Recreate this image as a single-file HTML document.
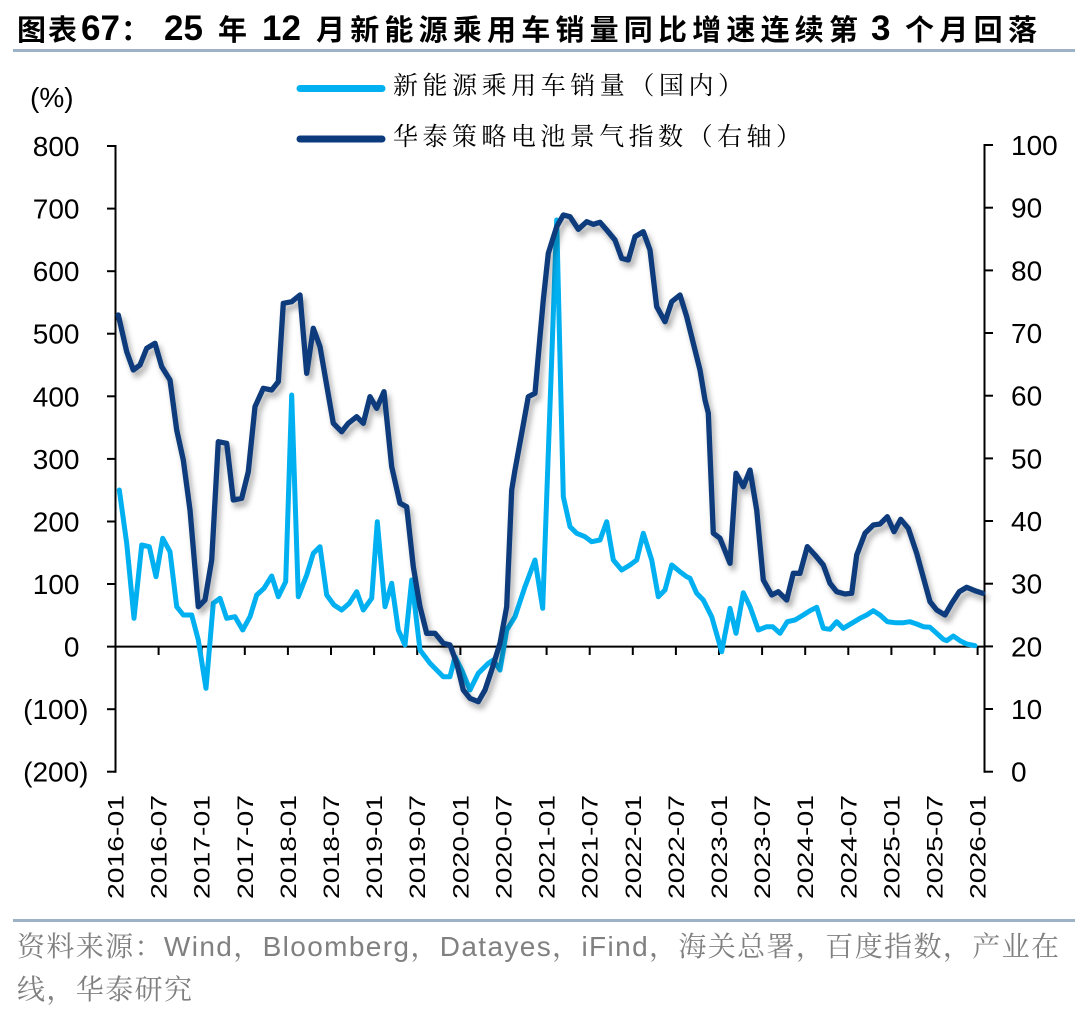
<!DOCTYPE html>
<html>
<head>
<meta charset="utf-8">
<style>
  html, body { margin: 0; padding: 0; background: #ffffff; }
  body { width: 1080px; height: 1013px; overflow: hidden; }
  svg { display: block; }
  .tick { font-family: "Liberation Sans", Arial, sans-serif; font-size: 28px; fill: #000; }
  .xl { font-family: "Liberation Sans", Arial, sans-serif; font-size: 22.5px; fill: #000; }
  .tt { font-family: "Liberation Sans", "Noto Sans CJK SC", sans-serif; font-size: 29px; font-weight: bold; fill: #000; }
  .td { font-family: "Liberation Sans", Arial, sans-serif; font-size: 35px; font-weight: bold; fill: #000; }
</style>
</head>
<body>
<svg width="1080" height="1013" viewBox="0 0 1080 1013" xmlns="http://www.w3.org/2000/svg">
  <defs>
    <filter id="sh" filterUnits="userSpaceOnUse" x="0" y="0" width="1080" height="1013">
      <feDropShadow dx="3" dy="5" stdDeviation="3" flood-color="#000" flood-opacity="0.33"/>
    </filter>
  </defs>
  <rect x="0" y="0" width="1080" height="1013" fill="#ffffff"/>

  <!-- Title -->
  <text class="tt" x="17" y="40" textLength="60" lengthAdjust="spacing">图表</text>
  <text class="td" x="81" y="40" font-size="33">67</text>
  <text class="tt" x="121" y="40">：</text>
  <text class="td" x="164" y="40">25</text>
  <text class="tt" x="218" y="40">年</text>
  <text class="td" x="262" y="40">12</text>
  <text class="tt" x="316" y="40" textLength="542" lengthAdjust="spacing">月新能源乘用车销量同比增速连续第</text>
  <text class="td" x="871" y="40">3</text>
  <text class="tt" x="905" y="40" textLength="132" lengthAdjust="spacing">个月回落</text>
  <line x1="13" y1="50.5" x2="1075" y2="50.5" stroke="#9DB2C9" stroke-width="3"/>

  <!-- Legend -->
  <line x1="300" y1="88.5" x2="382" y2="88.5" stroke="#00B0F0" stroke-width="7" stroke-linecap="round"/>
  <text x="393" y="94" font-family="'Liberation Serif', 'Noto Serif CJK SC', serif" font-size="25" fill="#000" textLength="350" lengthAdjust="spacing">新能源乘用车销量（国内）</text>
  <line x1="300" y1="139" x2="382" y2="139" stroke="#0B3B7C" stroke-width="7" stroke-linecap="round"/>
  <text x="393" y="145" font-family="'Liberation Serif', 'Noto Serif CJK SC', serif" font-size="25" fill="#000" textLength="408" lengthAdjust="spacing">华泰策略电池景气指数（右轴）</text>

  <!-- (%) -->
  <text class="tick" x="30" y="107">(%)</text>

  <!-- Left axis -->
  <line x1="115.5" y1="145" x2="115.5" y2="772.7" stroke="#000" stroke-width="2"/>
  <g stroke="#000" stroke-width="2">
    <line x1="107" y1="146" x2="115.5" y2="146"/>
    <line x1="107" y1="208.6" x2="115.5" y2="208.6"/>
    <line x1="107" y1="271.2" x2="115.5" y2="271.2"/>
    <line x1="107" y1="333.7" x2="115.5" y2="333.7"/>
    <line x1="107" y1="396.3" x2="115.5" y2="396.3"/>
    <line x1="107" y1="458.9" x2="115.5" y2="458.9"/>
    <line x1="107" y1="521.5" x2="115.5" y2="521.5"/>
    <line x1="107" y1="584" x2="115.5" y2="584"/>
    <line x1="107" y1="709.2" x2="115.5" y2="709.2"/>
    <line x1="107" y1="771.7" x2="115.5" y2="771.7"/>
  </g>
  <g class="tick" text-anchor="end">
    <text x="79.5" y="156">800</text>
    <text x="79.5" y="218.6">700</text>
    <text x="79.5" y="281.2">600</text>
    <text x="79.5" y="343.7">500</text>
    <text x="79.5" y="406.3">400</text>
    <text x="79.5" y="468.9">300</text>
    <text x="79.5" y="531.5">200</text>
    <text x="79.5" y="594">100</text>
    <text x="79.5" y="656.6">0</text>
    <text x="88.5" y="719.2">(100)</text>
    <text x="88.5" y="781.7">(200)</text>
  </g>

  <!-- Right axis -->
  <line x1="984.5" y1="144" x2="984.5" y2="772.7" stroke="#000" stroke-width="2"/>
  <g stroke="#000" stroke-width="2">
    <line x1="984.5" y1="145" x2="993" y2="145"/>
    <line x1="984.5" y1="207.7" x2="993" y2="207.7"/>
    <line x1="984.5" y1="270.4" x2="993" y2="270.4"/>
    <line x1="984.5" y1="333" x2="993" y2="333"/>
    <line x1="984.5" y1="395.7" x2="993" y2="395.7"/>
    <line x1="984.5" y1="458.4" x2="993" y2="458.4"/>
    <line x1="984.5" y1="521" x2="993" y2="521"/>
    <line x1="984.5" y1="583.7" x2="993" y2="583.7"/>
    <line x1="984.5" y1="646.4" x2="993" y2="646.4"/>
    <line x1="984.5" y1="709" x2="993" y2="709"/>
    <line x1="984.5" y1="771.7" x2="993" y2="771.7"/>
  </g>
  <g class="tick">
    <text x="1011" y="155">100</text>
    <text x="1011" y="217.7">90</text>
    <text x="1011" y="280.4">80</text>
    <text x="1011" y="343">70</text>
    <text x="1011" y="405.7">60</text>
    <text x="1011" y="468.4">50</text>
    <text x="1011" y="531">40</text>
    <text x="1011" y="593.7">30</text>
    <text x="1011" y="656.4">20</text>
    <text x="1011" y="719">10</text>
    <text x="1011" y="781.7">0</text>
  </g>

  <!-- X axis -->
  <line x1="107" y1="646.6" x2="984.5" y2="646.6" stroke="#000" stroke-width="2"/>
  <g stroke="#000" stroke-width="2">
    <line x1="158.6" y1="646.6" x2="158.6" y2="655"/>
    <line x1="201.7" y1="646.6" x2="201.7" y2="655"/>
    <line x1="244.8" y1="646.6" x2="244.8" y2="655"/>
    <line x1="287.9" y1="646.6" x2="287.9" y2="655"/>
    <line x1="331" y1="646.6" x2="331" y2="655"/>
    <line x1="374.1" y1="646.6" x2="374.1" y2="655"/>
    <line x1="417.2" y1="646.6" x2="417.2" y2="655"/>
    <line x1="460.4" y1="646.6" x2="460.4" y2="655"/>
    <line x1="503.5" y1="646.6" x2="503.5" y2="655"/>
    <line x1="546.6" y1="646.6" x2="546.6" y2="655"/>
    <line x1="589.7" y1="646.6" x2="589.7" y2="655"/>
    <line x1="632.8" y1="646.6" x2="632.8" y2="655"/>
    <line x1="675.9" y1="646.6" x2="675.9" y2="655"/>
    <line x1="719" y1="646.6" x2="719" y2="655"/>
    <line x1="762.1" y1="646.6" x2="762.1" y2="655"/>
    <line x1="805.2" y1="646.6" x2="805.2" y2="655"/>
    <line x1="848.3" y1="646.6" x2="848.3" y2="655"/>
    <line x1="891.4" y1="646.6" x2="891.4" y2="655"/>
    <line x1="934.5" y1="646.6" x2="934.5" y2="655"/>
    <line x1="977.6" y1="646.6" x2="977.6" y2="655"/>
  </g>

  <!-- X labels -->
  <g class="xl" text-anchor="end">
    <text transform="translate(123.5,795) rotate(-90)" textLength="104" lengthAdjust="spacingAndGlyphs">2016-01</text>
    <text transform="translate(166.6,795) rotate(-90)" textLength="104" lengthAdjust="spacingAndGlyphs">2016-07</text>
    <text transform="translate(209.7,795) rotate(-90)" textLength="104" lengthAdjust="spacingAndGlyphs">2017-01</text>
    <text transform="translate(252.8,795) rotate(-90)" textLength="104" lengthAdjust="spacingAndGlyphs">2017-07</text>
    <text transform="translate(295.9,795) rotate(-90)" textLength="104" lengthAdjust="spacingAndGlyphs">2018-01</text>
    <text transform="translate(339,795) rotate(-90)" textLength="104" lengthAdjust="spacingAndGlyphs">2018-07</text>
    <text transform="translate(382.1,795) rotate(-90)" textLength="104" lengthAdjust="spacingAndGlyphs">2019-01</text>
    <text transform="translate(425.2,795) rotate(-90)" textLength="104" lengthAdjust="spacingAndGlyphs">2019-07</text>
    <text transform="translate(468.4,795) rotate(-90)" textLength="104" lengthAdjust="spacingAndGlyphs">2020-01</text>
    <text transform="translate(511.5,795) rotate(-90)" textLength="104" lengthAdjust="spacingAndGlyphs">2020-07</text>
    <text transform="translate(554.6,795) rotate(-90)" textLength="104" lengthAdjust="spacingAndGlyphs">2021-01</text>
    <text transform="translate(597.7,795) rotate(-90)" textLength="104" lengthAdjust="spacingAndGlyphs">2021-07</text>
    <text transform="translate(640.8,795) rotate(-90)" textLength="104" lengthAdjust="spacingAndGlyphs">2022-01</text>
    <text transform="translate(683.9,795) rotate(-90)" textLength="104" lengthAdjust="spacingAndGlyphs">2022-07</text>
    <text transform="translate(727,795) rotate(-90)" textLength="104" lengthAdjust="spacingAndGlyphs">2023-01</text>
    <text transform="translate(770.1,795) rotate(-90)" textLength="104" lengthAdjust="spacingAndGlyphs">2023-07</text>
    <text transform="translate(813.2,795) rotate(-90)" textLength="104" lengthAdjust="spacingAndGlyphs">2024-01</text>
    <text transform="translate(856.3,795) rotate(-90)" textLength="104" lengthAdjust="spacingAndGlyphs">2024-07</text>
    <text transform="translate(899.4,795) rotate(-90)" textLength="104" lengthAdjust="spacingAndGlyphs">2025-01</text>
    <text transform="translate(942.5,795) rotate(-90)" textLength="104" lengthAdjust="spacingAndGlyphs">2025-07</text>
    <text transform="translate(985.6,795) rotate(-90)" textLength="104" lengthAdjust="spacingAndGlyphs">2026-01</text>
  </g>

  <!-- Light blue series: NEV passenger car sales YoY -->
  <polyline fill="none" stroke="#00B0F0" stroke-width="5" stroke-linejoin="round" stroke-linecap="round" points="
119.3,490 126.7,543.3 134,618.3 141.7,545 149.3,546.7 156,576.7 162.7,538.3 170,551.7 176.7,606.7 183.3,615 191.7,615 198.3,640 206,688.3 213.3,603.3 220,598.3 226.7,618.3 235,616.7 242.7,630 250,616.7 256.7,595 264,588.3 271.7,576 278.3,596.7 285.7,581.7 291.7,395 298.3,596.7 306.7,575 313.3,553.3 320,546.7 326.7,595 334,605 341.7,610 349.3,603.3 356.7,591.7 363.3,610 371.7,598.3 377.3,521.7 385,606.7 391.7,583.3 398.3,630 405,645 411.7,580 420,650 430,663.3 443.3,676.7 450,676.7 455,656.7 461.7,670 470,690 478.3,673.3 488.3,663.3 493.3,660 500,670 506.7,630 515,616.7 525,586.7 535,560 542.7,608.3 556.7,220 563.3,496.7 570,526.7 576.7,533.3 585,536.7 591.7,541.7 600,540 606.7,521.7 613.3,560 621.7,570 630,565 636.7,560 643.3,533.3 651.7,560 658.3,596.7 665,590 671.7,565 680,571.7 686.7,576.7 690,578.3 696.7,593.3 703.3,600 711.7,616.7 721.7,651.7 730,608.3 736,633.3 743.3,592.7 750,606.7 758.3,630 766.7,626.7 772.7,626.7 780,633.3 787.3,621.7 795,620 803.3,615 810,610.7 816.7,607.3 823.3,628.3 830,629.3 836.7,621.7 843.3,628.3 851.7,623.3 860,618.3 866.7,615 873.3,610.7 880,615 887.3,621.7 895,622.7 903.3,622.7 910,621.7 916.7,624 923.3,626.7 930,627.3 936.7,633.3 943.3,639.3 946.7,640.7 953.3,636 960,640.7 966.7,644 975,645.7"/>

  <!-- Dark blue series: battery index (right axis) -->
  <polyline filter="url(#sh)" fill="none" stroke="#0B3B7C" stroke-width="5.3" stroke-linejoin="round" stroke-linecap="round" points="
118.3,315 126.7,351.7 133.3,370 140,365 146.7,348.3 155,343.3 161.7,366.7 170,380 176.7,430 183.3,460 190,510 198.3,606.7 205,600 211.7,560 218.3,441.7 226.7,443.3 233.3,500 241.7,498.3 248.3,471.7 255,406.7 263.3,388.3 271.7,390 278.3,381.7 283.3,303.3 291.7,301.7 300,295 306.7,373.3 313.3,328.3 320,346.7 333.3,423.3 341.7,431.7 348.3,423.3 356.7,416.7 363.3,423.3 370,396.7 376.7,408.3 384,391.7 391.7,466.7 400,503.3 406.7,506.7 413.3,566.7 420,606.7 426.7,633.3 435,633.3 443.3,643.3 450,645 456.7,663.3 463.3,690 470,698.3 478.3,701.7 485,690 491.7,670 500,643.3 506.7,606.7 511.7,490 515,470 521.7,433.3 528.3,396.7 535,393.3 540,336.7 543.3,300 548.3,253.3 556.7,226.7 563.3,215 570,216.7 578.3,229.3 586.7,221.7 593.3,224.3 600,222.3 606.7,230 615,240 621.7,258.3 628.3,260 635,236.7 643.3,231.7 650,250 656.7,306.7 665,321.7 671.7,301.7 680,295 686.7,316.7 693.3,343.3 700,370 705,400 708.3,413 713.3,533.3 720,538.3 730,563.3 736,473.3 743.3,486.7 750,470 756.7,510 763.3,580 771.7,595 778.3,591.7 786.7,600 793.3,573.3 800,573.3 807.3,546.7 815,555 823.3,565 830,583.3 836.7,591.7 845,594 851.7,593.3 856.7,555 865,533.3 873.3,525 880,524 887.3,516.7 894,531.7 900.7,519.3 908.3,528.3 916.7,553.3 930,601.7 936.7,610 945,615 951.7,603.3 959.3,591.7 966.7,587.3 975,590.7 982.7,593.3"/>

  <!-- Footer -->
  <line x1="13" y1="920.5" x2="1075" y2="920.5" stroke="#9DB2C9" stroke-width="3"/>
  <text x="17" y="956" font-family="'Liberation Sans', 'Noto Serif CJK SC', serif" font-size="28" fill="#808080" textLength="1042" lengthAdjust="spacing">资料来源：Wind，Bloomberg，Datayes，iFind，海关总署，百度指数，产业在</text>
  <text x="17" y="999" font-family="'Liberation Sans', 'Noto Serif CJK SC', serif" font-size="28" fill="#808080" textLength="175" lengthAdjust="spacing">线，华泰研究</text>
</svg>
</body>
</html>
